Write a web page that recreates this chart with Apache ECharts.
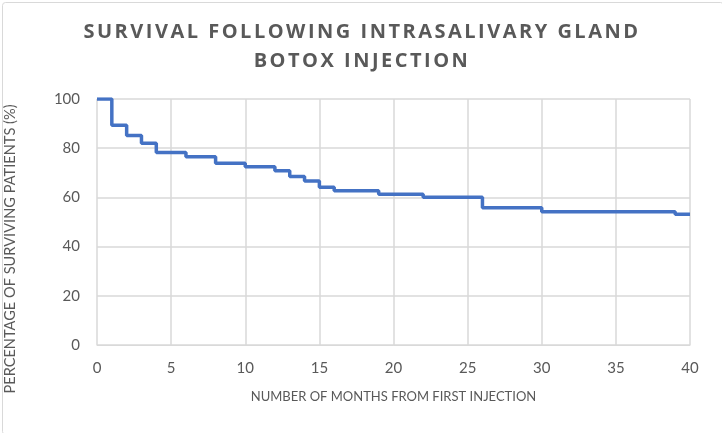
<!DOCTYPE html>
<html><head><meta charset="utf-8">
<script src="https://cdn.jsdelivr.net/npm/echarts@6/dist/echarts.min.js"></script>
<style>
html,body{margin:0;padding:0;background:#fff}
#wrap{position:relative;width:722px;height:433px}
#c{width:722px;height:433px}
#t{position:absolute;left:0;top:16px;width:722px;text-align:center;font-family:'Open Sans',sans-serif;font-weight:bold;font-size:20px;line-height:29px;letter-spacing:2.5px;color:#595959;padding-left:2px;box-sizing:border-box;pointer-events:none}
</style>
</head><body><div id="wrap"><div id="c"></div><div id="t"></div></div>
<script>
const titleLines = ['SURVIVAL FOLLOWING INTRASALIVARY GLAND', 'BOTOX INJECTION'];
const xAxisName = 'NUMBER OF MONTHS FROM FIRST INJECTION';
const yAxisName = 'PERCENTAGE OF SURVIVING PATIENTS (%)';
const months = [0, 1, 2, 3, 4, 6, 8, 10, 12, 13, 14, 15, 16, 19, 22, 26, 30, 39, 40];
const survival = [100, 89.3, 85.2, 82, 78.3, 76.5, 73.9, 72.5, 70.8, 68.5, 66.7, 64.1, 62.7, 61.3, 60.1, 55.8, 54.2, 53.1, 53.1];

document.getElementById('t').innerHTML = titleLines.join('<br>');

const chart = echarts.init(document.getElementById('c'), null, {renderer: 'canvas'});
const grey = '#595959';
chart.setOption({
  animation: false,
  backgroundColor: '#fff',
  graphic: [
    {type: 'rect', left: 0, top: 0, shape: {x: 0.5, y: 0.5, width: 721, height: 432, r: 3}, style: {fill: 'none', stroke: '#d9d9d9', lineWidth: 1}, z: -1},
    {type: 'text', x: 10, y: 249, rotation: Math.PI / 2, style: {text: yAxisName, fontFamily: 'Lato', fontSize: 14.6, fill: grey, align: 'center', verticalAlign: 'middle'}}
  ],
  grid: {left: 97, right: 32, top: 99, bottom: 88},
  xAxis: {
    type: 'value', min: 0, max: 40, interval: 5,
    name: xAxisName, nameLocation: 'middle', nameGap: 45,
    nameTextStyle: {fontFamily: 'Lato', fontSize: 13, color: grey},
    axisLine: {show: true, lineStyle: {color: '#d9d9d9'}},
    axisTick: {show: false},
    axisLabel: {fontFamily: 'Lato', fontSize: 15, color: grey, margin: 16},
    splitLine: {show: true, lineStyle: {color: '#d9d9d9', width: 1.5}}
  },
  yAxis: {
    type: 'value', min: 0, max: 100, interval: 20,
    axisLine: {show: false},
    axisTick: {show: false},
    axisLabel: {fontFamily: 'Lato', fontSize: 15, color: grey, margin: 17},
    splitLine: {show: true, lineStyle: {color: '#d9d9d9', width: 1.5}}
  },
  series: [{
    type: 'line', step: 'end', showSymbol: false,
    data: months.map((m, i) => [m, survival[i]]),
    lineStyle: {color: '#4472C4', width: 3.5}
  }]
});
</script></body></html>
